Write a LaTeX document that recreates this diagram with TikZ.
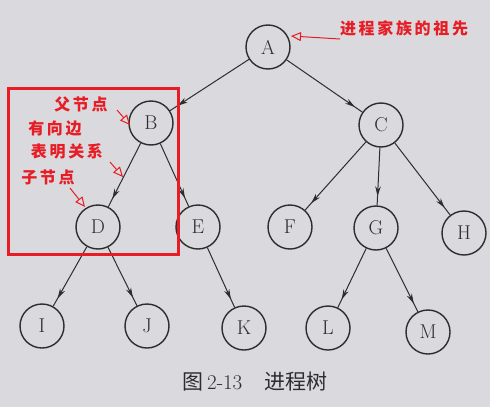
\documentclass[tikz,border=0pt]{standalone}
\usepackage{fontspec}
\newfontfamily\cjk{Noto Sans CJK SC}
\usetikzlibrary{arrows.meta,decorations.markings}
\definecolor{bgc}{RGB}{218,218,222}
\definecolor{ink}{RGB}{45,45,45}
\definecolor{mark red}{RGB}{232,28,36}
\begin{document}
\begin{tikzpicture}[x=1pt,y=-1pt,
  nd/.style={circle,draw=ink,line width=1.4pt,minimum size=44pt,inner sep=0pt,
    font=\fontsize{20}{20}\selectfont,text=ink},
  edge/.style={line width=1pt,draw=ink,postaction={decorate},
    decoration={markings,mark=at position -9pt with {\arrow[ink]{Stealth[length=10pt,width=5.5pt]}}}},
  lbl/.style={text=mark red,font=\cjk\bfseries\fontsize{16}{16}\selectfont,inner sep=0pt},
  redarrow/.style={draw=mark red,line width=1pt,-{Triangle[open,length=10pt,width=9pt]}},
  captxt/.style={text=ink,inner sep=0pt}]
\fill[bgc] (0,0) rectangle (490,407);
\useasboundingbox (0,0) rectangle (490,407);
% nodes
\node[nd] (A) at (268,47) {A};
\node[nd] (B) at (151,123) {B};
\node[nd] (C) at (381,125) {C};
\node[nd] (D) at (98,227) {D};
\node[nd] (E) at (198,227) {E};
\node[nd] (F) at (290,227) {F};
\node[nd] (G) at (376,228) {G};
\node[nd] (H) at (464,233) {H};
\node[nd] (I) at (42,326) {I};
\node[nd] (J) at (147,326) {J};
\node[nd] (K) at (244,328) {K};
\node[nd] (L) at (328,328) {L};
\node[nd] (M) at (428,332) {M};
% edges
\foreach \a/\b in {A/B,A/C,B/D,B/E,C/F,C/G,C/H,D/I,D/J,E/K,G/L,G/M}
  \draw[edge] (\a) -- (\b);
% red box
\draw[mark red,line width=3pt] (8,88) rectangle (178,254);
% labels
\node[lbl] (t1) at (404,28) {进\,程\,家\,族\,的\,祖\,先};
\node[lbl] (t2) at (81,104) {父\,节\,点};
\node[lbl] (t3) at (55,128) {有\,向\,边};
\node[lbl] (t4) at (67,151) {表\,明\,关\,系};
\node[lbl] (t5) at (48,177) {子\,节\,点};
\coordinate (a1s) at (340,39); \coordinate (a1e) at (291,36);
\coordinate (a2s) at (117,110); \coordinate (a2e) at (130,125);
\coordinate (a3s) at (110,162); \coordinate (a3e) at (123,177);
\coordinate (a4s) at (70,188); \coordinate (a4e) at (85,207);
\draw[redarrow] (a1s) -- (a1e);
\draw[redarrow] (a2s) -- (a2e);
\draw[redarrow] (a3s) -- (a3e);
\draw[redarrow] (a4s) -- (a4e);
% caption
\node[captxt,font=\fontsize{21}{21}\selectfont] (capt) at (255,382) {{\cjk 图}\,2-13\hspace{22pt}{\cjk 进程树}};
\end{tikzpicture}
\end{document}
